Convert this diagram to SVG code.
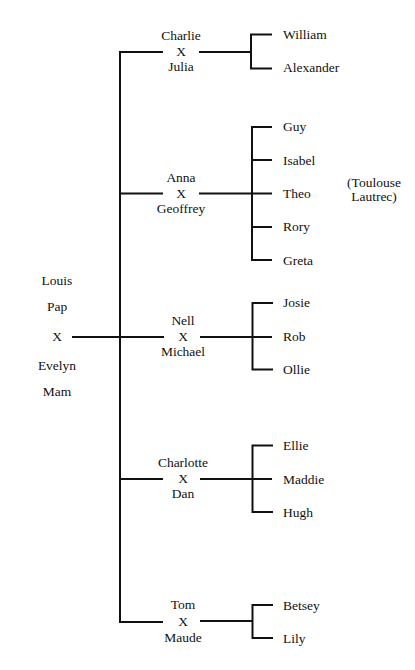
<svg xmlns="http://www.w3.org/2000/svg" width="415" height="670" viewBox="0 0 415 670">
<style>
  text { font-size: 13.5px; fill: #111; }
  .c { text-anchor: middle; }
  .l { text-anchor: start; }
  .ln { stroke: #111; stroke-width: 2; fill: none; stroke-linecap: butt; }
</style>
<rect width="415" height="670" fill="#fff"/>
<g id="connectors">
  <path class="ln" d="M120,51.5 V622.5"/>
  <path class="ln" d="M119,52 H163"/>
  <path class="ln" d="M119,193.5 H163"/>
  <path class="ln" d="M72,337 H164"/>
  <path class="ln" d="M119,479 H163"/>
  <path class="ln" d="M119,622 H163"/>
  <path class="ln" d="M199,52 H251"/>
  <path class="ln" d="M199,193.5 H272"/>
  <path class="ln" d="M200,337 H272"/>
  <path class="ln" d="M200,479 H272"/>
  <path class="ln" d="M200,621 H252"/>
  <path class="ln" d="M272,34.5 H251 V68.5 H272"/>
  <path class="ln" d="M272,127 H252 V260 H272 M252,160 H272 M252,227 H272"/>
  <path class="ln" d="M273,303 H252.5 V369.5 H273"/>
  <path class="ln" d="M273,445.5 H252.5 V512 H273"/>
  <path class="ln" d="M273,605 H252.5 V638 H273"/>
</g>
<g font-family="Liberation Serif, DejaVu Serif, serif">
<g id="louis-evelyn">
  <text class="c" x="57" y="285">Louis</text>
  <text class="c" x="57" y="311">Pap</text>
  <text class="c" x="57" y="341">X</text>
  <text class="c" x="57" y="369.5">Evelyn</text>
  <text class="c" x="57" y="396">Mam</text>
</g>
<g id="charlie-julia">
  <text class="c" x="181" y="39.5">Charlie</text>
  <text class="c" x="181" y="56">X</text>
  <text class="c" x="181" y="71">Julia</text>
</g>
<g id="anna-geoffrey">
  <text class="c" x="181" y="181.5">Anna</text>
  <text class="c" x="181" y="197.5">X</text>
  <text class="c" x="181" y="213">Geoffrey</text>
</g>
<g id="nell-michael">
  <text class="c" x="183" y="324.5">Nell</text>
  <text class="c" x="183" y="341">X</text>
  <text class="c" x="183" y="355.5">Michael</text>
</g>
<g id="charlotte-dan">
  <text class="c" x="183" y="467">Charlotte</text>
  <text class="c" x="183" y="483">X</text>
  <text class="c" x="183" y="497.5">Dan</text>
</g>
<g id="tom-maude">
  <text class="c" x="183" y="609">Tom</text>
  <text class="c" x="183" y="626">X</text>
  <text class="c" x="183" y="641.5">Maude</text>
</g>
<g id="william"><text class="l" x="283" y="38.5">William</text></g>
<g id="alexander"><text class="l" x="283" y="72">Alexander</text></g>
<g id="guy"><text class="l" x="283" y="131">Guy</text></g>
<g id="isabel"><text class="l" x="283" y="164.5">Isabel</text></g>
<g id="theo"><text class="l" x="283" y="198">Theo</text></g>
<g id="rory"><text class="l" x="283" y="231">Rory</text></g>
<g id="greta"><text class="l" x="283" y="264.5">Greta</text></g>
<g id="toulouse-lautrec">
  <text class="c" x="374" y="187">(Toulouse</text>
  <text class="c" x="374" y="201">Lautrec)</text>
</g>
<g id="josie"><text class="l" x="283" y="307">Josie</text></g>
<g id="rob"><text class="l" x="283" y="341">Rob</text></g>
<g id="ollie"><text class="l" x="283" y="374">Ollie</text></g>
<g id="ellie"><text class="l" x="283" y="450">Ellie</text></g>
<g id="maddie"><text class="l" x="283" y="483.5">Maddie</text></g>
<g id="hugh"><text class="l" x="283" y="516.5">Hugh</text></g>
<g id="betsey"><text class="l" x="283" y="609.5">Betsey</text></g>
<g id="lily"><text class="l" x="283" y="642.5">Lily</text></g>
</g>
</svg>
